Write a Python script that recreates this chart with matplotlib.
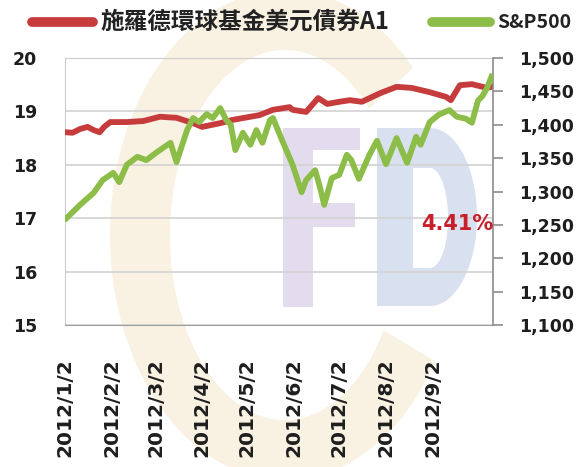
import numpy as np
import pandas as pd
import matplotlib
matplotlib.use("Agg")
import matplotlib.pyplot as plt
from matplotlib.patches import Polygon
from matplotlib.lines import Line2D

# fund NAV (left axis)
fund_dates = ["2012-01-02", "2012-01-07", "2012-01-12", "2012-01-17", "2012-01-21",
              "2012-01-25", "2012-01-28", "2012-02-01", "2012-02-12", "2012-02-23",
              "2012-03-05", "2012-03-16", "2012-03-27", "2012-04-02", "2012-04-14",
              "2012-04-22", "2012-05-10", "2012-05-19", "2012-05-30", "2012-06-01",
              "2012-06-10", "2012-06-18", "2012-06-24", "2012-07-02", "2012-07-09",
              "2012-07-17", "2012-07-29", "2012-08-09", "2012-08-19", "2012-08-31",
              "2012-09-11", "2012-09-14", "2012-09-20", "2012-09-28", "2012-10-08",
              "2012-10-11"]
fund_nav = [18.61, 18.60, 18.67, 18.71, 18.65,
            18.61, 18.71, 18.80, 18.80, 18.82,
            18.90, 18.88, 18.78, 18.71, 18.78,
            18.84, 18.93, 19.03, 19.08, 19.03,
            18.99, 19.25, 19.14, 19.18, 19.21,
            19.18, 19.34, 19.46, 19.44, 19.36,
            19.27, 19.21, 19.49, 19.51, 19.44,
            19.46]

# S&P 500 (right axis)
spx_dates = ["2012-01-03", "2012-01-12", "2012-01-21", "2012-01-27", "2012-02-03",
             "2012-02-07", "2012-02-12", "2012-02-19", "2012-02-25", "2012-03-03",
             "2012-03-12", "2012-03-16", "2012-03-23", "2012-03-27", "2012-03-31",
             "2012-04-05", "2012-04-09", "2012-04-14", "2012-04-18", "2012-04-21",
             "2012-04-24", "2012-04-29", "2012-05-04", "2012-05-08", "2012-05-12",
             "2012-05-17", "2012-05-19", "2012-05-25", "2012-06-01", "2012-06-07",
             "2012-06-10", "2012-06-16", "2012-06-19", "2012-06-22", "2012-06-27",
             "2012-07-02", "2012-07-07", "2012-07-10", "2012-07-15", "2012-07-22",
             "2012-07-27", "2012-08-02", "2012-08-09", "2012-08-16", "2012-08-22",
             "2012-08-25", "2012-08-31", "2012-09-06", "2012-09-13", "2012-09-18",
             "2012-09-24", "2012-09-28", "2012-10-02", "2012-10-05", "2012-10-08",
             "2012-10-11"]
spx_close = [1260, 1280, 1298, 1317, 1328,
             1314, 1340, 1352, 1347, 1359,
             1373, 1344, 1392, 1410, 1404,
             1416, 1410, 1425, 1407, 1400,
             1362, 1388, 1370, 1392, 1373,
             1407, 1410, 1377, 1340, 1299,
             1317, 1332, 1308, 1280, 1320,
             1325, 1355, 1347, 1319, 1355,
             1376, 1341, 1380, 1343, 1382,
             1370, 1404, 1415, 1422, 1412,
             1409, 1403, 1436, 1443, 1455,
             1472]

tick_dates = ["2012-01-02", "2012-02-02", "2012-03-02", "2012-04-02", "2012-05-02",
              "2012-06-02", "2012-07-02", "2012-08-02", "2012-09-02"]
tick_labels = ["2012/1/2", "2012/2/2", "2012/3/2", "2012/4/2", "2012/5/2",
               "2012/6/2", "2012/7/2", "2012/8/2", "2012/9/2"]
left_ticks = [15, 16, 17, 18, 19, 20]
right_ticks = [1100, 1150, 1200, 1250, 1300, 1350, 1400, 1450, 1500]

fund_name = "施羅德環球基金美元債券A1"
index_name = "S&P500"
note = "4.41%"

red = "#c63b3c"
green = "#8cbd48"
W, H = 576, 467

fig = plt.figure(figsize=(W / 100, H / 100), dpi=100)

# faint "CFD" watermark behind the chart, in pixel coordinates
bg = fig.add_axes([0, 0, 1, 1], zorder=0)
bg.set_xlim(0, W)
bg.set_ylim(H, 0)
bg.axis("off")
t = np.radians(np.linspace(31, 317, 200))
outer = np.column_stack([285 + 175 * np.cos(t), 235 + 245 * np.sin(t)])
inner = np.column_stack([285 + 115 * np.cos(t[::-1]), 235 + 185 * np.sin(t[::-1])])
bg.add_patch(Polygon(np.vstack([outer, inner]), closed=True, fc="#f9f2e2", ec="none"))
f_pts = [(283, 128), (360, 128), (360, 150), (313, 150), (313, 203), (355, 203),
         (355, 227), (313, 227), (313, 307), (283, 307)]
bg.add_patch(Polygon(f_pts, closed=True, fc="#e3dcee", ec="none"))
a = np.radians(np.linspace(-90, 90, 80))
d_out = [(377, 128)] + list(zip(430 + 47 * np.cos(a), 217 + 89 * np.sin(a))) + [(377, 306)]
d_in = [(413, 168)] + list(zip(430 + 18 * np.cos(a), 218 + 50 * np.sin(a))) + [(413, 268)]
bg.add_patch(Polygon(d_out, closed=True, fc="#d9e0ef", ec="none"))
bg.add_patch(Polygon(d_in, closed=True, fc="white", ec="none"))

ax = fig.add_axes([65 / W, 1 - 325 / H, (493 - 65) / W, (325 - 58) / H], zorder=1)
ax.patch.set_alpha(0)
ax2 = ax.twinx()

fd = pd.to_datetime(fund_dates)
sd = pd.to_datetime(spx_dates)
ax.plot(fd, fund_nav, color=red, lw=4.2, solid_joinstyle="round", zorder=3)
ax2.plot(sd, spx_close, color=green, lw=4.2, solid_joinstyle="round", zorder=3)

ax.set_xlim(pd.Timestamp("2012-01-02"), pd.Timestamp("2012-10-12"))
ax.set_ylim(15, 20)
ax2.set_ylim(1100, 1500)

ax.set_yticks(left_ticks)
ax.set_yticklabels([str(v) for v in left_ticks])
ax2.set_yticks(right_ticks)
ax2.set_yticklabels([f"{v:,}" for v in right_ticks])
ax.set_xticks(pd.to_datetime(tick_dates))
ax.set_xticklabels(tick_labels, rotation=90)

ax.grid(axis="y", color="#d2d2d2", lw=1.2)
ax.set_axisbelow(True)

for s in ["left", "top"]:
    ax.spines[s].set_color("#cccccc")
ax.spines["bottom"].set_color("#a0a0a0")
ax.spines["right"].set_visible(False)
for s in ["left", "top", "bottom"]:
    ax2.spines[s].set_visible(False)
ax2.spines["right"].set_color("#8c8c8c")
ax2.spines["right"].set_linewidth(1.2)

ax.tick_params(axis="y", length=0, pad=20, labelsize=12.5)
ax.tick_params(axis="x", length=0, pad=24, labelsize=14.5)
ax2.tick_params(axis="y", direction="out", length=7, width=1.2, color="#8c8c8c",
                pad=12, labelsize=12.5)
for tl in ax.get_yticklabels() + ax.get_xticklabels() + ax2.get_yticklabels():
    tl.set_fontweight("bold")
    tl.set_color("#1e1e1e")

ax2.text(1.0, 0.38, note, transform=ax2.transAxes, ha="right", va="center",
         color="#c8202a", fontsize=15, fontweight="bold", zorder=5)

# legend drawn by hand on top of the figure
cjk = ["Noto Sans CJK TC", "DejaVu Sans"]
fig.add_artist(Line2D([32 / W, 93 / W], [1 - 22 / H] * 2, color=red, lw=7,
                      solid_capstyle="round"))
fig.text(100 / W, 1 - 22 / H, fund_name, fontsize=17, family=cjk, fontweight="bold",
         va="center", color="#222222")
fig.add_artist(Line2D([432 / W, 490 / W], [1 - 22 / H] * 2, color=green, lw=7,
                      solid_capstyle="round"))
fig.text(497 / W, 1 - 22 / H, index_name, fontsize=14, family=cjk, fontweight="bold",
         va="center", color="#222222")

fig.savefig("out.png", dpi=100)
